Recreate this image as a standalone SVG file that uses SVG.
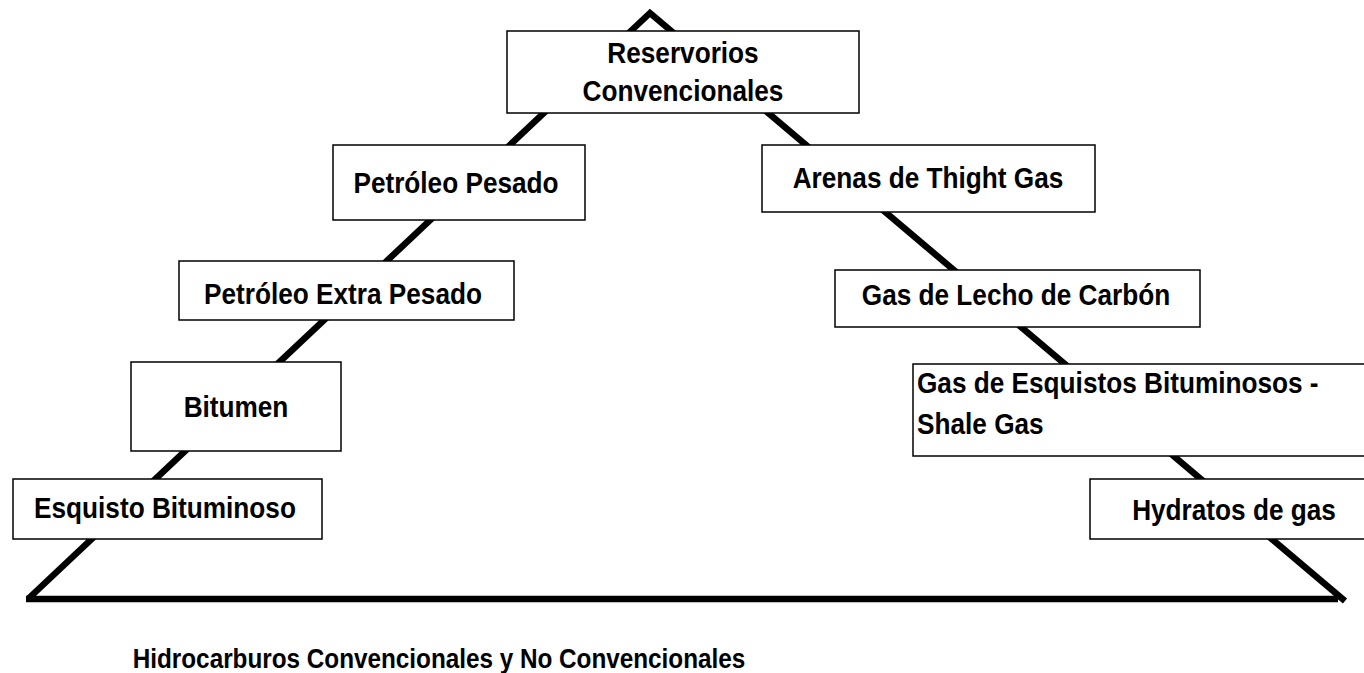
<svg xmlns="http://www.w3.org/2000/svg" width="1364" height="673" viewBox="0 0 1364 673">
<style>
.box{fill:#fff;stroke:#000;stroke-width:1.5}
.t{font-family:"Liberation Sans",Arial,sans-serif;font-weight:bold;font-size:26.2px;fill:#000}
.c{text-anchor:middle}
.edge{fill:none;stroke:#000;stroke-width:6.5;stroke-linejoin:miter;stroke-miterlimit:10}
</style>
<rect width="1364" height="673" fill="#fff"/>
<g id="connectors">
<polyline class="edge" points="28,599 650,13 1345,601"/>
<line class="edge" x1="26" y1="599" x2="1338" y2="599"/>
</g>
<g id="n-reservorios">
<rect class="box" x="507" y="31" width="352" height="82"/>
<text class="t c" transform="translate(683 63) scale(1 1.13)">Reservorios</text>
<text class="t c" transform="translate(683 101) scale(1 1.13)">Convencionales</text>
</g>
<g id="n-petroleo-pesado">
<rect class="box" x="333" y="145" width="252" height="75"/>
<text class="t c" transform="translate(456 193) scale(1 1.13)">Petróleo Pesado</text>
</g>
<g id="n-arenas">
<rect class="box" x="762" y="145" width="333" height="67"/>
<text class="t c" transform="translate(928 188) scale(1 1.13)">Arenas de Thight Gas</text>
</g>
<g id="n-extra-pesado">
<rect class="box" x="179" y="261" width="335" height="59"/>
<text class="t c" transform="translate(343 304) scale(1 1.13)">Petróleo Extra Pesado</text>
</g>
<g id="n-lecho">
<rect class="box" x="835" y="270" width="365" height="57"/>
<text class="t c" transform="translate(1016 305) scale(1 1.13)">Gas de Lecho de Carbón</text>
</g>
<g id="n-bitumen">
<rect class="box" x="131" y="362" width="210" height="89"/>
<text class="t c" transform="translate(236 417) scale(1 1.13)">Bitumen</text>
</g>
<g id="n-shale">
<rect class="box" x="913" y="364" width="455" height="92"/>
<text class="t" transform="translate(917 393) scale(1 1.13)">Gas de Esquistos Bituminosos -</text>
<text class="t" transform="translate(917 434) scale(1 1.13)">Shale Gas</text>
</g>
<g id="n-esquisto">
<rect class="box" x="13" y="479" width="309" height="60"/>
<text class="t c" transform="translate(165 518) scale(1 1.13)">Esquisto Bituminoso</text>
</g>
<g id="n-hydratos">
<rect class="box" x="1090" y="479" width="278" height="60"/>
<text class="t c" transform="translate(1234 520) scale(1 1.13)">Hydratos de gas</text>
</g>
<g id="caption">
<text class="t c" style="font-size:24.3px" transform="translate(439 668) scale(1 1.13)">Hidrocarburos Convencionales y No Convencionales</text>
</g>
</svg>
